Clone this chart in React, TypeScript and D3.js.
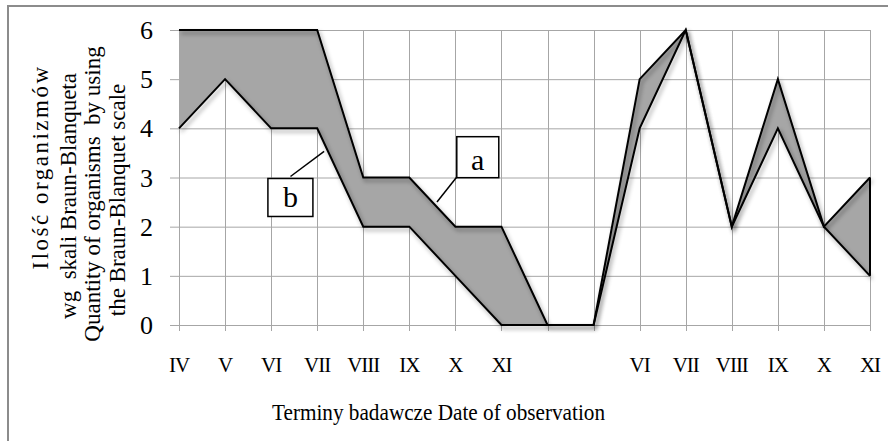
import { useEffect, useRef } from 'react';
import * as d3 from 'd3';

const categories = ['IV', 'V', 'VI', 'VII', 'VIII', 'IX', 'X', 'XI', '', ' ', 'VI', 'VII', 'VIII', 'IX', 'X', 'XI'];
const seriesA = [6, 6, 6, 6, 3, 3, 2, 2, 0, 0, 5, 6, 2, 5, 2, 3];
const seriesB = [4, 5, 4, 4, 2, 2, 1, 0, 0, 0, 4, 6, 2, 4, 2, 1];
const yTicks = [0, 1, 2, 3, 4, 5, 6];
const yTitleLines = ['Ilość organizmów', 'wg  skali Braun-Blanqueta', 'Quantity of organisms  by using', 'the Braun-Blanquet scale'];
const xTitle = 'Terminy badawcze Date of observation';

export default function App() {
  const svgRef = useRef<SVGSVGElement>(null);

  useEffect(() => {
    if (!svgRef.current) return;
    const svg = d3.select(svgRef.current);
    svg.selectAll('*').remove();

    const width = 888;
    const height = 441;
    const margin = { top: 30, right: 18, bottom: 116, left: 179 };
    const innerW = width - margin.left - margin.right;
    const innerH = height - margin.top - margin.bottom;
    const serif = '"Liberation Serif", "Times New Roman", serif';

    const x = d3.scaleLinear().domain([0, categories.length - 1]).range([0, innerW]);
    const y = d3.scaleLinear().domain([0, 6]).range([innerH, 0]);

    const defs = svg.append('defs');
    const filter = defs.append('filter').attr('id', 'shadow')
      .attr('x', '-10%').attr('y', '-10%').attr('width', '130%').attr('height', '130%');
    filter.append('feDropShadow')
      .attr('dx', 2).attr('dy', 3).attr('stdDeviation', 2.2)
      .attr('flood-color', '#000').attr('flood-opacity', 0.4);

    // outer frame
    svg.append('rect')
      .attr('x', 8).attr('y', 6).attr('width', 920).attr('height', 480)
      .attr('fill', 'white').attr('stroke', '#8c8c8c').attr('stroke-width', 2);

    const g = svg.append('g').attr('transform', `translate(${margin.left},${margin.top})`);

    // grid
    g.selectAll('.hgrid').data(yTicks).enter().append('line')
      .attr('x1', -9).attr('x2', innerW)
      .attr('y1', d => y(d) + 0.5).attr('y2', d => y(d) + 0.5)
      .attr('stroke', '#a6a6a6').attr('stroke-width', 1);
    g.selectAll('.vgrid').data(categories).enter().append('line')
      .attr('x1', (_d, i) => Math.round(x(i)) + 0.5).attr('x2', (_d, i) => Math.round(x(i)) + 0.5)
      .attr('y1', 0).attr('y2', innerH + 6)
      .attr('stroke', '#a6a6a6').attr('stroke-width', 1);

    // y tick labels
    g.selectAll('.ylab').data(yTicks).enter().append('text')
      .attr('x', -26).attr('y', d => y(d) + 9)
      .attr('text-anchor', 'end')
      .style('font-family', serif)
      .style('font-size', '26px')
      .text(d => d);

    // x tick labels
    g.selectAll('.xlab').data(categories).enter().append('text')
      .attr('x', (_d, i) => x(i)).attr('y', innerH + 47)
      .attr('text-anchor', 'middle')
      .style('font-family', serif)
      .style('font-size', '21px')
      .style('letter-spacing', '-1px')
      .text(d => d.trim());

    const idx = categories.map((_d, i) => i);

    const area = d3.area<number>()
      .x(i => x(i))
      .y0(i => y(seriesB[i]))
      .y1(i => y(seriesA[i]));

    g.append('path').datum(idx)
      .attr('d', area)
      .attr('fill', '#a6a6a6');

    const lineA = d3.line<number>().x(i => x(i)).y(i => y(seriesA[i]));
    const lineB = d3.line<number>().x(i => x(i)).y(i => y(seriesB[i]));

    [lineA, lineB].forEach(l => {
      g.append('path').datum(idx)
        .attr('d', l)
        .attr('fill', 'none')
        .attr('stroke', '#000')
        .attr('stroke-width', 2)
        .attr('stroke-linejoin', 'miter')
        .attr('filter', 'url(#shadow)');
    });

    // right edge of the band at the last category
    const last = categories.length - 1;
    g.append('line')
      .attr('x1', x(last)).attr('x2', x(last))
      .attr('y1', y(seriesA[last])).attr('y2', y(seriesB[last]))
      .attr('stroke', '#000').attr('stroke-width', 2);

    // annotations
    const labels = [
      { t: 'a', bx: 6.03, by: 3.83, bw: 42, bh: 41, base: 33, from: [6.03, 3.01], to: [5.6, 2.5] },
      { t: 'b', bx: 1.93, by: 2.98, bw: 45, bh: 38, base: 29, from: [2.42, 3.02], to: [3.15, 3.53] },
    ];
    labels.forEach(l => {
      g.append('line')
        .attr('x1', x(l.from[0])).attr('y1', y(l.from[1]))
        .attr('x2', x(l.to[0])).attr('y2', y(l.to[1]))
        .attr('stroke', '#000').attr('stroke-width', 1.5);
      g.append('rect')
        .attr('x', x(l.bx)).attr('y', y(l.by))
        .attr('width', l.bw).attr('height', l.bh)
        .attr('fill', 'white').attr('stroke', '#000').attr('stroke-width', 1.5);
      g.append('text')
        .attr('x', x(l.bx) + l.bw / 2).attr('y', y(l.by) + l.base)
        .attr('text-anchor', 'middle')
        .style('font-family', serif)
        .style('font-size', '30px')
        .text(l.t);
    });

    // axis titles
    svg.append('text')
      .attr('x', 272).attr('y', 420)
      .attr('textLength', 333)
      .attr('lengthAdjust', 'spacingAndGlyphs')
      .style('font-family', serif)
      .style('font-size', '24px')
      .text(xTitle);

    const yCenters = [167, 196, 194, 200];
    const yXs = [48, 76, 100, 125];
    yTitleLines.forEach((t, i) => {
      const txt = svg.append('text')
        .attr('transform', `translate(${yXs[i]},${yCenters[i]}) rotate(-90)`)
        .attr('text-anchor', 'middle')
        .style('font-family', serif)
        .style('font-size', '23px')
        .style('white-space', 'pre')
        .text(t);
      if (i === 0) txt.style('letter-spacing', '2.5px');
    });
  }, []);

  return (
    <svg
      ref={svgRef}
      width={888}
      height={441}
      style={{ position: 'absolute', left: 0, top: 0 }}
    ></svg>
  );
}
